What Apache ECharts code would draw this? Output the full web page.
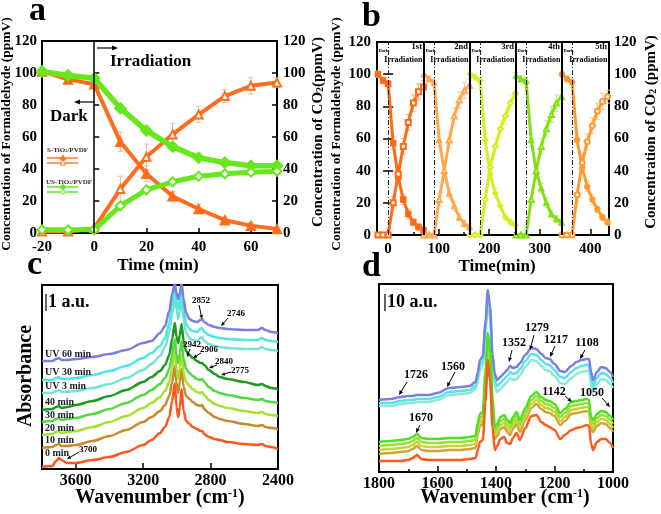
<!DOCTYPE html>
<html><head><meta charset="utf-8">
<script src="https://cdn.jsdelivr.net/npm/echarts@6/dist/echarts.min.js"></script>
<style>html,body{margin:0;padding:0;background:#fff}#c{width:661px;height:514px}</style>
</head><body><div id="c"></div><script>
// ---------- Panel a data ----------
const timeA = [-20,-10,0,10,20,30,40,50,60,70];
const sHcho = [101,96,93,57,37,23,15,8,4.6,2.5];
const sCo2 = [1,1,3,27.5,47.6,61.6,74,85.6,92,94];
const sHchoErr = [0,2,2,6,5,3,3,2,2,1];
const sCo2Err = [0,0,0,8,8,7,5,4,5,3];
const usHcho = [101,98.5,96.7,78,64,54,47,44,42,42];
const usCo2 = [2,2,2,17,27,32,35.5,37,38,38.6];
const ticksA = [-20,0,20,40,60];

// ---------- Panel b data ----------
const tC1 = [-20,-10,0,10,20,30,40,50,60,70];
const tC2 = [71,81,91,101,111,121,131,141,151,161];
const tC3 = [162,172,182,192,202,212,222,232,242,252];
const tC4 = [253,263,273,283,293,303,313,323,333,343];
const tC5 = [344,354,364,374,384,394,404,414,424,434];
const hcho1 = [100,96,94,57,36,22,13,8,5,3];
const co2_1 = [0,0,0,20,38,55,70,82,89,92];
const hcho2 = [100,97,95,59,40,26,18,11,7,5];
const co2_2 = [0,0,0,22,40,59,74,84,90,93];
const hcho3 = [100,98,96,59,38,26,18,11,8,6];
const co2_3 = [0,0,0,22,42,55,66,74,82,88];
const hcho4 = [99,97,96,59,40,29,20,13,10,8];
const co2_4 = [0,0,0,22,40,55,66,75,82,86];
const hcho5 = [100,97,95,59,42,30,22,16,11,8];
const co2_5 = [0,0,0,25,45,58,68,77,83,86];
const errHB = [2,2,2,4,3,3,3,2,2,2];
const errCB = [1,1,1,4,5,5,5,5,5,4];
const dividersB = [71,162,253,344];
const irradB = [0,91,182,273,364];
const ticksB = [0,100,200,300,400];
const minorB = [50,150,250,350];

// ---------- Panel c data (absorbance, arbitrary offset units) ----------
const wnC = [3800,3740,3715,3700,3685,3650,3600,3500,3400,3300,3200,3150,3100,3070,3045,3028,3012,3002,2992,2982,2972,2960,2945,2925,2906,2880,2860,2850,2838,2810,2775,2746,2700,2600,2520,2495,2475,2440,2400];
const cUV60 = [108,108,110,111,109,109,110,112,115,119,126,128,136,143,158,175,186,176,170,176,186,170,156,150,148,147,149,150,147,144,142,141,140,139,139,141,139,137,136];
const cUV30 = [89,89,91,92,90,90,91,94,98,103,111,116,123,131,146,165,180,170,160,168,178,160,145,140,138,137,140,141,137,134,132,131,130,129,129,131,129,128,127];
const cUV3 = [76,76,78,79,77,77,78,81,85,91,99,105,113,122,137,155,170,160,150,158,168,150,136,131,129,128,131,132,128,125,123,122,121,120,120,122,120,119,118];
const c40 = [59,60,62,63,61,62,64,68,73,79,87,92,98,104,114,130,146,132,126,134,145,128,118,114,111,108,106,106,104,99,95,92,90,87,84,85,83,81,80];
const c30 = [47,48,50,51,49,50,51,55,60,66,74,79,85,91,100,114,130,114,106,116,128,110,100,96,93,90,89,90,87,82,78,76,74,71,69,70,68,67,66];
const c20 = [34,35,37,38,36,37,38,42,47,53,61,66,72,78,87,101,117,100,90,102,114,96,87,83,80,77,76,77,74,69,65,63,61,58,56,57,55,54,53];
const c10 = [21,22,24,25,23,23,24,28,33,39,47,52,58,64,73,87,103,86,76,88,100,82,73,70,67,64,63,64,60,56,52,50,48,45,43,44,42,41,40];
const c0 = [2,3,8,11,9,6,6,9,12,17,24,29,36,42,52,68,86,62,52,62,80,58,48,45,42,40,38,38,35,32,30,29,27,25,24,25,23,22,20];
const ticksC = [3600,3200,2800,2400];

// ---------- Panel d data ----------
const wnD = [1800,1760,1726,1700,1685,1670,1655,1630,1600,1560,1520,1490,1470,1462,1455,1445,1436,1428,1420,1412,1404,1396,1385,1372,1362,1352,1342,1330,1318,1300,1279,1262,1245,1230,1217,1200,1180,1165,1142,1125,1108,1090,1082,1075,1068,1055,1040,1025,1010,1000];
const dPurple = [72,73,75,76,76,77,77,77,79,84,85,86,90,100,112,116,150,182,165,118,98,92,95,99,102,106,104,105,109,117,124,123,118,114,113,108,101,100,106,110,112,113,113,100,92,100,105,104,100,95];
const dCyan = [69,69,71,72,72,73,73,73,75,80,81,82,86,95,107,111,145,178,160,112,92,86,89,93,96,100,98,99,103,111,118,117,112,108,107,102,95,94,100,104,106,107,107,94,86,94,99,98,94,89];
const dAqua = [66,66,68,69,69,70,70,70,72,77,78,79,83,91,102,106,138,170,152,105,86,80,83,87,90,94,92,93,97,105,112,111,106,102,101,96,89,88,94,98,100,101,101,88,80,88,93,92,88,84];
const dGreen = [30,31,32,33,35,38,34,33,33,34,34,35,36,50,58,60,100,139,120,75,45,48,55,57,52,49,55,60,52,64,76,80,75,72,71,68,59,63,70,71,72,73,72,55,52,58,61,60,56,52];
const dYG = [26,27,28,29,31,34,30,29,29,30,30,31,32,46,54,56,95,132,114,70,41,44,51,53,48,45,51,56,48,60,72,76,71,68,67,64,55,59,66,67,68,69,68,51,48,54,57,56,52,48];
const dYel = [22,23,24,25,27,30,26,25,25,26,26,27,28,42,50,52,90,126,108,66,37,40,47,49,44,41,47,52,44,56,68,72,67,64,63,60,51,55,62,63,64,65,64,47,44,50,53,52,48,44];
const dOchre = [18,19,20,21,23,26,22,21,21,22,22,23,24,38,46,48,84,119,102,61,33,36,43,45,40,37,43,48,40,52,64,68,63,60,59,56,47,51,58,59,60,61,60,43,40,46,49,48,44,40];
const dRed = [11,11,11,12,14,17,13,12,12,12,12,13,14,22,30,32,70,112,90,45,22,26,33,35,29,28,34,39,32,44,56,57,50,47,45,42,33,37,42,44,45,47,46,28,22,30,33,33,29,24];
const ticksD = [1800,1600,1400,1200,1000];
const minorD = [1700,1500,1300,1100];

// ---------- helpers ----------
const FF = '"Liberation Serif","Times New Roman",serif';
const zip = (xs, ys) => xs.map((x, i) => [x, ys[i]]);
const plain = v => String(v);
const lbl = (size, extra) => Object.assign({color:'#000', fontFamily:FF, fontWeight:'bold', fontSize:size, formatter:plain}, extra || {});

function lineS(xi, yi, xs, ys, color, o) {
  o = o || {};
  const s = {
    type:'line', xAxisIndex:xi, yAxisIndex:yi, data:zip(xs, ys),
    symbol:o.symbol || 'none', symbolSize:o.size || 6, showSymbol:!!o.symbol,
    lineStyle:{color:color, width:o.width || 2.5},
    itemStyle:{color:color, borderColor:color, borderWidth:o.bw || 1.5},
    silent:true, z:o.z || 2
  };
  if (o.smooth) { s.smooth = o.smooth; s.smoothMonotone = 'x'; }
  if (o.markLine) s.markLine = o.markLine;
  return s;
}
function errS(xi, yi, xs, ys, es, color) {
  return {
    type:'custom', xAxisIndex:xi, yAxisIndex:yi, silent:true, z:1,
    encode:{x:0, y:1},
    data: xs.map((x, i) => [x, ys[i], es[i]]),
    renderItem: function (params, api) {
      const x = api.value(0), y = api.value(1), e = api.value(2);
      if (!e) return null;
      const p1 = api.coord([x, y - e]), p2 = api.coord([x, y + e]);
      const w = 2.5, st = {stroke:color, lineWidth:1};
      return {type:'group', children:[
        {type:'line', shape:{x1:p1[0], y1:p1[1], x2:p2[0], y2:p2[1]}, style:st},
        {type:'line', shape:{x1:p1[0]-w, y1:p1[1], x2:p1[0]+w, y2:p1[1]}, style:st},
        {type:'line', shape:{x1:p2[0]-w, y1:p2[1], x2:p2[0]+w, y2:p2[1]}, style:st}
      ]};
    }
  };
}

const G = [];
function T(x, y, text, size, o) {
  o = o || {};
  G.push({type:'text', x:x, y:y, rotation:o.rot || 0, z:100,
    style:{text:text, fill:o.fill || '#000', font:'bold ' + size + 'px ' + FF,
      textAlign:o.align || 'left', align:o.align || 'left',
      textVerticalAlign:'middle', verticalAlign:'middle', rich:o.rich}});
}
function A(x1, y1, x2, y2, o) {
  o = o || {};
  const ang = Math.atan2(y2 - y1, x2 - x1), hl = o.hl || 4.5, hw = o.hw || 2;
  const bx = x2 - hl * Math.cos(ang), by = y2 - hl * Math.sin(ang);
  const px = -Math.sin(ang) * hw, py = Math.cos(ang) * hw;
  G.push({type:'line', z:100, shape:{x1:x1, y1:y1, x2:bx, y2:by}, style:{stroke:'#000', lineWidth:o.lw || 1}});
  G.push({type:'polygon', z:100, shape:{points:[[x2, y2], [bx + px, by + py], [bx - px, by - py]]}, style:{fill:'#000'}});
}
const subRich = (size) => ({s:{fontSize:size * 0.65, fontWeight:'bold', fontFamily:FF, verticalAlign:'bottom'}});
const supRich = (size) => ({p:{fontSize:size * 0.6, fontWeight:'bold', fontFamily:FF, verticalAlign:'top'}});

// panel titles
T(29, 11, 'a', 34); T(362, 17, 'b', 34); T(27, 265, 'c', 34); T(362, 267, 'd', 34);

// panel a annotations
T(110, 62, 'Irradiation', 17);
T(50, 117, 'Dark', 17);
A(97, 48, 118, 48, {lw:1.2, hl:6, hw:2.5});
A(94, 102, 74, 102, {lw:1.2, hl:6, hw:2.5});
T(7, 134, 'Concentration of Formaldehyde (ppmV)', 13.5, {rot:Math.PI/2, align:'center'});
T(318, 132, 'Concentration of CO{s|2}(ppmV)', 15, {rot:Math.PI/2, align:'center', rich:subRich(15)});
T(158, 266, 'Time (min)', 17, {align:'center'});
// legend a
T(47, 150, 'S-TiO{s|2}/PVDF', 7, {rich:subRich(7), fill:'#3a2a2a'});
T(46, 182, 'US-TiO{s|2}/PVDF', 7, {rich:subRich(7), fill:'#3a2a2a'});
[[158, 'f'], [163, 'e']].forEach(([y, t]) => {
  G.push({type:'line', shape:{x1:47, y1:y, x2:78, y2:y}, style:{stroke:'#ff7a2a', lineWidth:1.5}, z:100});
  G.push({type:'polygon', shape:{points:[[63, y-3], [60.2, y+2], [65.8, y+2]]}, style:{fill:t === 'f' ? '#ff7a2a' : '#fff', stroke:'#ff7a2a', lineWidth:1}, z:101});
});
[[187, 'f'], [192, 'e']].forEach(([y, t]) => {
  G.push({type:'line', shape:{x1:47, y1:y, x2:78, y2:y}, style:{stroke:'#5ee81e', lineWidth:1.5}, z:100});
  G.push({type:'circle', shape:{cx:63, cy:y, r:2.2}, style:{fill:t === 'f' ? '#5ee81e' : '#fff', stroke:'#5ee81e', lineWidth:1}, z:101});
});

// panel b annotations
T(337, 134, 'Concentration of Formaldehyde (ppmV)', 13.5, {rot:Math.PI/2, align:'center'});
T(651, 132, 'Concentration of CO{s|2} (ppmV)', 15, {rot:Math.PI/2, align:'center', rich:subRich(15)});
T(497, 267, 'Time(min)', 17, {align:'center'});
const cycL = [377, 424, 470, 516, 562], cycR = [423, 469, 515, 561, 608];
const ords = ['1st', '2nd', '3rd', '4th', '5th'];
for (let k = 0; k < 5; k++) {
  T(cycL[k] + 1.5, 51, 'Dark', 4.5);
  T(cycR[k] - 0.5, 60, 'Irradiation', 8, {align:'right'});
  T(cycR[k] - 1, 47, ords[k], 8.5, {align:'right'});
}

// panel c annotations
T(44, 302, '|1 a.u.', 18);
T(26, 376, 'Absorbance', 20, {rot:Math.PI/2, align:'center'});
T(160, 498, 'Wavenumber (cm{p|-1})', 20, {align:'center', rich:supRich(20)});
const cLab = [['UV 60 min', 354], ['UV 30 min', 372], ['UV 3 min', 386], ['40 min', 402], ['30 min', 415], ['20 min', 428], ['10 min', 440], ['0 min', 453]];
cLab.forEach(([t, y]) => T(45, y, t, 10, {fill:'#1a1a2a'}));
T(201, 301, '2852', 9, {align:'center'}); A(199, 305, 202, 319, {hl:4, hw:1.8});
T(236, 314, '2746', 9, {align:'center'}); A(228, 318, 221, 326, {hl:4, hw:1.8});
T(192, 345, '2942', 9, {align:'center'}); A(190, 349, 187, 357, {hl:4, hw:1.8});
T(209, 350, '2906', 9, {align:'center'}); A(201, 353, 193, 358, {hl:4, hw:1.8});
T(224, 362, '2840', 9, {align:'center'}); A(217, 365, 209, 368, {hl:4, hw:1.8});
T(240, 371, '2775', 9, {align:'center'}); A(231, 372, 221, 375, {hl:4, hw:1.8});
T(88, 450, '3700', 9, {align:'center'}); A(79, 452, 67, 459, {hl:4, hw:1.8});

// panel d annotations
T(383, 302, '|10 a.u.', 18);
T(505, 498, 'Wavenumber (cm{p|-1})', 20, {align:'center', rich:supRich(20)});
const dAnn = [
  ['1726', 416, 375, 407, 382, 399, 395], ['1560', 453, 367, 455, 372, 447, 387],
  ['1352', 514, 343, 512, 350, 509, 362], ['1279', 537, 328, 534, 335, 530, 350],
  ['1217', 556, 340, 555, 346, 550, 357], ['1108', 587, 343, 585, 350, 580, 359],
  ['1670', 421, 418, 420, 425, 416, 433], ['1142', 554, 392, 565, 396, 572, 402],
  ['1050', 592, 393, 602, 398, 610, 407]
];
dAnn.forEach(a => { T(a[1], a[2], a[0], 12, {align:'center'}); A(a[3], a[4], a[5], a[6], {hl:4.5, hw:2}); });

// ---------- axes ----------
const tick = (len, vals) => ({show:true, inside:true, length:len, customValues:vals, lineStyle:{color:'#000', width:1.5}});
const noAx = {axisLine:{show:false}, splitLine:{show:false}};
const xAxes = [
  Object.assign({gridIndex:0, type:'value', min:-20, max:70, axisTick:tick(5, ticksA), axisLabel:lbl(15, {customValues:ticksA, margin:7})}, noAx),
  Object.assign({gridIndex:1, type:'value', min:-22, max:437, axisTick:tick(6, ticksB), axisLabel:lbl(15, {customValues:ticksB, margin:7})}, noAx),
  Object.assign({gridIndex:1, type:'value', min:-22, max:437, position:'bottom', axisTick:tick(3, minorB), axisLabel:{show:false}}, noAx),
  Object.assign({gridIndex:2, type:'value', min:2400, max:3800, inverse:true, axisTick:tick(6, ticksC), axisLabel:lbl(16, {customValues:ticksC, margin:4})}, noAx),
  Object.assign({gridIndex:3, type:'value', min:1000, max:1800, inverse:true, axisTick:tick(6, ticksD), axisLabel:lbl(16, {customValues:ticksD, margin:4})}, noAx),
  Object.assign({gridIndex:3, type:'value', min:1000, max:1800, inverse:true, position:'bottom', axisTick:tick(3, minorD), axisLabel:{show:false}}, noAx)
];
const yTick = {show:true, inside:true, length:5, lineStyle:{color:'#000', width:1.5}};
const yAxes = [
  Object.assign({gridIndex:0, type:'value', min:0, max:120, interval:20, position:'left', axisTick:yTick, axisLabel:lbl(15, {margin:5})}, noAx),
  Object.assign({gridIndex:0, type:'value', min:0, max:120, interval:20, position:'right', axisTick:yTick, axisLabel:lbl(15, {margin:6})}, noAx),
  Object.assign({gridIndex:1, type:'value', min:0, max:120, interval:20, position:'left', axisTick:yTick, axisLabel:lbl(15, {margin:6})}, noAx),
  Object.assign({gridIndex:1, type:'value', min:0, max:120, interval:20, position:'right', axisTick:yTick, axisLabel:lbl(15, {margin:5})}, noAx),
  {gridIndex:2, type:'value', min:0, max:184, show:false},
  {gridIndex:3, type:'value', min:0, max:188, show:false}
];
const gridBase = {show:true, borderColor:'#000', borderWidth:2, backgroundColor:'transparent', containLabel:false};
const grids = [
  Object.assign({left:42, top:41, width:235, height:192}, gridBase),
  Object.assign({left:377, top:42, width:232, height:193}, gridBase),
  Object.assign({left:42, top:285, width:236, height:184}, gridBase),
  Object.assign({left:379, top:284, width:234, height:188}, gridBase)
];

// ---------- series ----------
const OR = '#ff6c1c', GR = '#66e81c';
const series = [
  errS(0, 0, timeA, sHcho, sHchoErr, '#ffb48a'),
  errS(0, 1, timeA, sCo2, sCo2Err, '#ffb48a'),
  lineS(0, 0, timeA, sHcho, OR, {symbol:'triangle', size:9, width:4, z:3,
    markLine:{silent:true, symbol:'none', label:{show:false}, data:[{xAxis:0}], lineStyle:{color:'#000', width:1.5, type:'solid'}}}),
  lineS(0, 1, timeA, sCo2, OR, {symbol:'emptyTriangle', size:8, width:4, z:3}),
  lineS(0, 0, timeA, usHcho, GR, {symbol:'diamond', size:11, width:5.5, z:4}),
  lineS(0, 1, timeA, usCo2, GR, {symbol:'emptyDiamond', size:9, width:5, z:4})
];

const cyc = [
  [tC1, hcho1, co2_1, '#ff6a14', '#ffb080', 'rect', 'emptyRect'],
  [tC2, hcho2, co2_2, '#ffa850', '#ffd0a0', 'triangle', 'emptyTriangle'],
  [tC3, hcho3, co2_3, '#d6ee1e', '#eaf790', 'diamond', 'emptyDiamond'],
  [tC4, hcho4, co2_4, '#84e012', '#bdf080', 'triangle', 'emptyTriangle'],
  [tC5, hcho5, co2_5, '#ff9a2e', '#ffcc90', 'circle', 'emptyCircle']
];
const bMarks = dividersB.map(v => ({xAxis:v, lineStyle:{color:'#000', width:2, type:'solid'}}))
  .concat(irradB.map(v => ({xAxis:v, lineStyle:{color:'#222', width:1, type:[5, 2, 1, 2]}})));
cyc.forEach((c, k) => {
  series.push(errS(1, 2, c[0], c[1], errHB, c[4]));
  series.push(errS(1, 3, c[0], c[2], errCB, c[4]));
  const o1 = {symbol:c[5], size:5, width:3, z:3};
  if (k === 0) o1.markLine = {silent:true, symbol:'none', label:{show:false}, data:bMarks};
  series.push(lineS(1, 2, c[0], c[1], c[3], o1));
  series.push(lineS(1, 3, c[0], c[2], c[3], {symbol:c[6], size:5, width:3, z:3}));
});

const cCurves = [[c0, '#ff5520'], [c10, '#c98a2a'], [c20, '#a8e030'], [c30, '#52d842'], [c40, '#1e9a1e'], [cUV3, '#72e4d4'], [cUV30, '#4fe6e6'], [cUV60, '#7b7fdd']];
cCurves.forEach(c => series.push(lineS(3, 4, wnC, c[0], c[1], {width:2.5, smooth:0.3})));
const dCurves = [[dAqua, '#8ce9d6'], [dCyan, '#58e4e6'], [dPurple, '#7b7fdd'], [dOchre, '#d4a434'], [dYel, '#c6d43a'], [dYG, '#98e032'], [dGreen, '#4ee022'], [dRed, '#ff5a1e']];
dCurves.forEach(c => series.push(lineS(4, 5, wnD, c[0], c[1], {width:2.5, smooth:0.3})));

const chart = echarts.init(document.getElementById('c'), null, {renderer:'canvas'});
chart.setOption({
  animation:false,
  backgroundColor:'#fff',
  grid:grids, xAxis:xAxes, yAxis:yAxes, series:series, graphic:{elements:G}
});
</script></body></html>
